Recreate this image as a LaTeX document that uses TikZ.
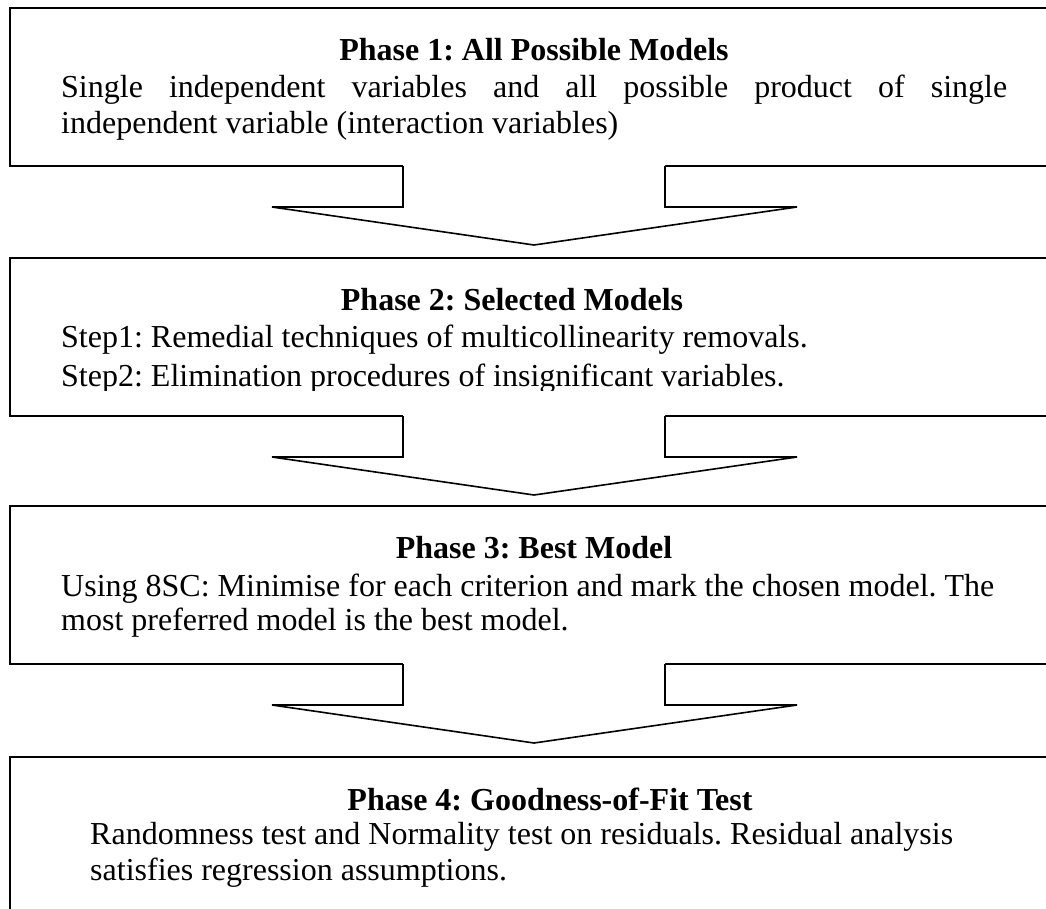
\documentclass[tikz,border=0pt]{standalone}
\usepackage{fontspec}
\setmainfont{Liberation Serif}
\usetikzlibrary{calc}
\frenchspacing
\begin{document}
\begin{tikzpicture}[x=1pt,y=-1pt,
  phasebox/.style={draw, line width=2pt, rectangle, anchor=north west,
    minimum width=1060pt, minimum height=158pt, inner sep=0pt},
  phasetitle/.style={anchor=base, font=\fontsize{32}{36}\selectfont\bfseries, inner sep=0pt},
  bodyline/.style={anchor=base west, font=\fontsize{32}{36}\selectfont, inner sep=0pt},
  blockarrow/.style={draw, line width=1.6pt, line join=miter}]
\useasboundingbox (0,0) rectangle (1046,908);
\clip (0,0) rectangle (1046,908);

% boxes
\node[phasebox] (b1) at (9,7) {};
\node[phasebox] (b2) at (9,257) {};
\node[phasebox] (b3) at (9,505) {};
\node[phasebox, minimum height=200pt] (b4) at (9,756) {};

% block arrows between boxes
\foreach \a in {b1,b2,b3}{
  \fill[white] ($(\a.south west)+(394,-4)$) -- ($(\a.south west)+(394,40)$)
     -- ($(\a.south west)+(263,40)$) -- ($(\a.south west)+(525,78)$)
     -- ($(\a.south west)+(788,40)$) -- ($(\a.south west)+(656,40)$)
     -- ($(\a.south west)+(656,-4)$) -- cycle;
  \draw[blockarrow] ($(\a.south west)+(394,-1)$) -- ($(\a.south west)+(394,40)$)
     -- ($(\a.south west)+(263,40)$) -- ($(\a.south west)+(525,78)$)
     -- ($(\a.south west)+(788,40)$) -- ($(\a.south west)+(656,40)$)
     -- ($(\a.south west)+(656,-1)$);
}

% Phase 1
\node[phasetitle] (t1) at (534,60) {Phase 1: All Possible Models};
\node[bodyline] (p1a) at (61,97) {\makebox[946pt][s]{Single independent variables and all possible product of single}};
\node[bodyline] (p1b) at (61,133) {independent variable (interaction variables)};

% Phase 2
\node[phasetitle] (t2) at (512,310) {Phase 2: Selected Models};
\node[bodyline] (p2a) at (61,347) {Step1: Remedial techniques of multicollinearity removals.};
\begin{scope}
  \clip (0,0) rectangle (1046,390);
  \node[bodyline] (p2b) at (61,386) {Step2: Elimination procedures of insignificant variables.};
\end{scope}

% Phase 3
\node[phasetitle] (t3) at (534,558) {Phase 3: Best Model};
\node[bodyline] (p3a) at (61,596) {Using 8SC: Minimise for each criterion and mark the chosen model. The};
\node[bodyline] (p3b) at (61,630) {most preferred model is the best model.};

% Phase 4
\node[phasetitle] (t4) at (550,810) {Phase 4: Goodness-of-Fit Test};
\node[bodyline] (p4a) at (90,844) {Randomness test and Normality test on residuals. Residual analysis};
\node[bodyline] (p4b) at (90,880) {satisfies regression assumptions.};
\end{tikzpicture}
\end{document}
